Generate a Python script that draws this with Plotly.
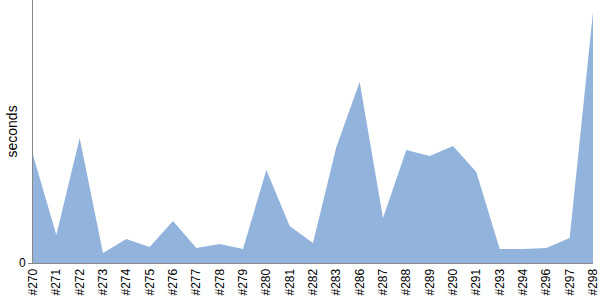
import plotly.graph_objects as go

builds = ["#270", "#271", "#272", "#273", "#274", "#275", "#276", "#277", "#278", "#279",
          "#280", "#281", "#282", "#283", "#286", "#287", "#288", "#289", "#290", "#291",
          "#293", "#294", "#296", "#297", "#298"]
seconds = [108, 28, 125, 10, 24, 16, 42, 15, 19, 14,
           93, 37, 20, 116, 181, 45, 113, 107, 117, 91,
           14, 14, 15, 25, 251]

fig = go.Figure()
fig.add_trace(go.Scatter(
    x=builds, y=seconds, mode="lines", fill="tozeroy",
    line=dict(width=0, color="#91b3dc"), fillcolor="#91b3dc",
    hoverinfo="x+y",
))
fig.update_layout(
    width=600, height=300,
    margin=dict(l=33, r=5, t=0, b=37),
    paper_bgcolor="white", plot_bgcolor="white",
    showlegend=False,
    font=dict(family="Liberation Sans, Arial, sans-serif", size=12, color="black"),
)
fig.update_xaxes(
    type="category", tickangle=-90, showgrid=False, zeroline=False,
    showline=True, linecolor="#888888", linewidth=1,
    ticks="", range=[0, len(builds) - 1],
    tickfont=dict(size=12),
)
fig.update_yaxes(
    range=[0, 263], tickvals=[0], ticktext=["0"], showgrid=False, zeroline=False,
    showline=True, linecolor="#888888", linewidth=1,
    ticks="outside", ticklen=4, tickcolor="#888888",
    tickfont=dict(size=12),
)
fig.add_annotation(
    text="seconds", xref="paper", yref="paper", x=0, y=0.5,
    xanchor="center", yanchor="middle", xshift=-22, textangle=-90,
    showarrow=False, font=dict(size=14),
)
fig.write_html("out.html")
